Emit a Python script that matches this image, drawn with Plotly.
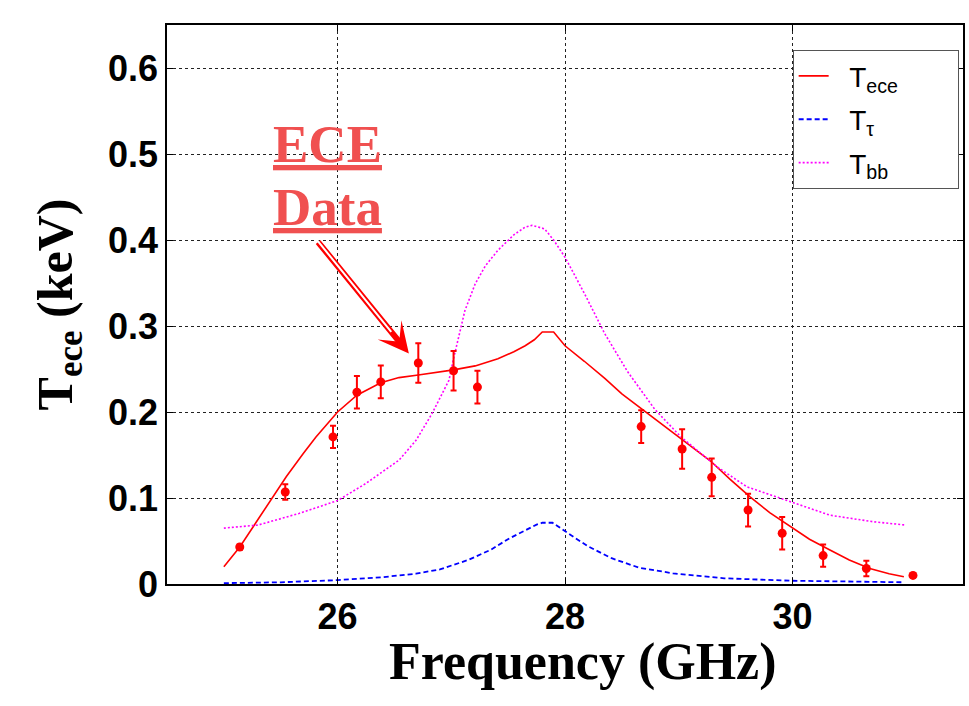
import plotly.graph_objects as go

# ---- data ----
freq_pts = [25.14, 25.54, 25.96, 26.17, 26.38, 26.71, 27.02, 27.23,
            28.67, 29.03, 29.29, 29.61, 29.91, 30.27, 30.65, 31.06]
tece_pts = [0.043, 0.107, 0.171, 0.223, 0.235, 0.257, 0.248, 0.229,
            0.183, 0.157, 0.124, 0.086, 0.059, 0.033, 0.018, 0.010]
tece_err = [0.003, 0.009, 0.013, 0.019, 0.019, 0.023, 0.023, 0.019,
            0.019, 0.023, 0.022, 0.019, 0.019, 0.013, 0.009, 0.0]

f_ece = [25.00, 25.14, 25.31, 25.45, 25.55, 25.70, 25.81, 26.00, 26.17, 26.38,
         26.54, 26.71, 26.87, 27.02, 27.21, 27.41, 27.55, 27.65, 27.73, 27.80,
         27.90, 28.00, 28.17, 28.35, 28.50, 28.70, 29.02, 29.28, 29.45, 29.63,
         29.80, 29.98, 30.15, 30.33, 30.50, 30.68, 30.85, 30.98]
t_ece = [0.020, 0.043, 0.077, 0.105, 0.125, 0.152, 0.171, 0.200, 0.2195, 0.234,
         0.240, 0.243, 0.246, 0.249, 0.2536, 0.262, 0.270, 0.277, 0.284, 0.293,
         0.293, 0.277, 0.259, 0.239, 0.221, 0.201, 0.169, 0.143, 0.122, 0.101,
         0.083, 0.067, 0.052, 0.0395, 0.028, 0.018, 0.012, 0.0085]

f_tau = [25.00, 25.50, 26.00, 26.40, 26.69, 26.90, 27.15, 27.35, 27.51, 27.65,
         27.75, 27.80, 27.89, 28.05, 28.20, 28.41, 28.65, 28.95, 29.40, 29.99,
         30.50, 30.98]
t_tau = [0.001, 0.002, 0.0045, 0.008, 0.012, 0.017, 0.028, 0.040, 0.053, 0.062,
         0.069, 0.0712, 0.0712, 0.057, 0.044, 0.030, 0.019, 0.0124, 0.0066, 0.0038,
         0.0025, 0.002]

f_bb = [25.00, 25.30, 25.66, 26.00, 26.25, 26.54, 26.69, 26.83, 26.98, 27.02,
        27.12, 27.21, 27.30, 27.41, 27.55, 27.65, 27.71, 27.82, 27.90, 28.00,
        28.17, 28.35, 28.55, 28.79, 29.02, 29.34, 29.60, 29.98, 30.33, 30.71,
        31.00]
t_bb = [0.065, 0.0685, 0.082, 0.097, 0.117, 0.144, 0.167, 0.198, 0.237, 0.262,
        0.318, 0.349, 0.370, 0.388, 0.406, 0.415, 0.417, 0.413, 0.400, 0.380,
        0.338, 0.291, 0.247, 0.203, 0.171, 0.136, 0.113, 0.096, 0.080, 0.0724,
        0.0685]

x_ticks = [26, 28, 30]
y_ticks = [0, 0.1, 0.2, 0.3, 0.4, 0.5, 0.6]
y_ticklabels = ["0", "0.1", "0.2", "0.3", "0.4", "0.5", "0.6"]

NB = "\u00a0"
fig = go.Figure()
fig.add_trace(go.Scatter(x=f_ece, y=t_ece, mode="lines",
                         line=dict(color="#FF0000", width=1.6),
                         legendgroup="a",
                         name=NB * 2 + "T<sub>ece</sub>" + NB * 7))
fig.add_trace(go.Scatter(x=f_tau, y=t_tau, mode="lines",
                         line=dict(color="#0000FF", width=1.8, dash="5px,3px"),
                         legendgroup="b",
                         name=NB * 2 + "T<sub>τ</sub>"))
fig.add_trace(go.Scatter(x=f_bb, y=t_bb, mode="lines",
                         line=dict(color="#FF00FF", width=1.6, dash="2px,2px"),
                         legendgroup="c",
                         name=NB * 2 + "T<sub>bb</sub>"))
fig.add_trace(go.Scatter(x=freq_pts, y=tece_pts, mode="markers",
                         marker=dict(color="#FF0000", size=9),
                         error_y=dict(type="data", array=tece_err, color="#FF0000",
                                      thickness=2, width=3),
                         showlegend=False))

axis_common = dict(showline=True, linecolor="black", linewidth=1.5, mirror="ticks",
                   ticks="inside", ticklen=6, tickcolor="black",
                   showgrid=True, gridcolor="#222222", griddash="dot", gridwidth=1,
                   zeroline=False,
                   tickfont=dict(family="Liberation Sans", size=36, color="black",
                                 weight="bold"))

fig.update_xaxes(range=[24.5, 31.5], tickvals=x_ticks, **axis_common)
fig.update_yaxes(range=[0, 0.65], tickvals=y_ticks, ticktext=y_ticklabels,
                 title=dict(text="<b>T<sub>ece</sub> (keV)</b>", standoff=20,
                            font=dict(family="Liberation Serif", size=50, color="black")),
                 **axis_common)

# x-axis title
fig.add_annotation(x=0.5226, y=-0.1395, xref="paper", yref="paper",
                   text="<b>Frequency (GHz)</b>", showarrow=False,
                   xanchor="center", yanchor="middle",
                   font=dict(family="Liberation Serif", size=52, color="black"))

ann_color = "#F05050"
fig.add_annotation(x=25.909, y=0.512, xref="x", yref="y", text="<b><u>ECE</u></b>",
                   showarrow=False, xanchor="center", yanchor="middle",
                   font=dict(family="Liberation Serif", size=53, color=ann_color))
fig.add_annotation(x=25.909, y=0.438, xref="x", yref="y", text="<b><u>Data</u></b>",
                   showarrow=False, xanchor="center", yanchor="middle",
                   font=dict(family="Liberation Serif", size=53, color=ann_color))
# double-line arrow
fig.add_annotation(x=26.627, y=0.268, xref="x", yref="y", text="",
                   showarrow=True, ax=-92, ay=-113, arrowcolor="#FF0000",
                   arrowwidth=6, arrowhead=3, arrowsize=0.85, standoff=0)
fig.add_annotation(x=26.472, y=0.2931, xref="x", yref="y", text="",
                   showarrow=True, ax=-76, ay=-94, arrowcolor="white",
                   arrowwidth=2, arrowhead=0, standoff=0)

fig.update_layout(
    width=969, height=706,
    margin=dict(l=167, r=4, t=25, b=122),
    plot_bgcolor="white", paper_bgcolor="white",
    legend=dict(x=0.786, y=0.955, xanchor="left", yanchor="top",
                bgcolor="white", bordercolor="#555555", borderwidth=1,
                tracegroupgap=4,
                font=dict(family="Liberation Sans", size=28, color="black")),
)

fig.write_html("out.html")
